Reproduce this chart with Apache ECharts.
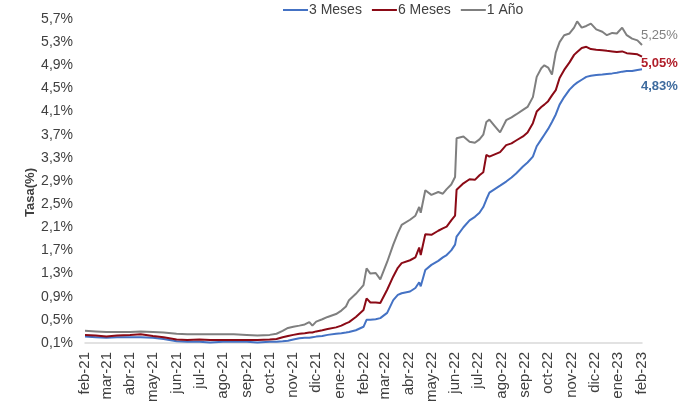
<!DOCTYPE html>
<html>
<head>
<meta charset="utf-8">
<script src="https://cdn.jsdelivr.net/npm/echarts@6/dist/echarts.min.js"></script>
<style>html,body{margin:0;padding:0;background:#fff}#c{width:691px;height:405px}</style>
</head>
<body>
<div id="c"></div>
<script>
const dates = [
 '2021-02-01','2021-02-15','2021-03-01','2021-03-15','2021-04-01','2021-04-15','2021-05-01','2021-05-15','2021-06-01','2021-06-15',
 '2021-07-01','2021-07-15','2021-08-01','2021-08-15','2021-09-01','2021-09-15','2021-10-01','2021-10-10','2021-10-18','2021-10-25',
 '2021-11-01','2021-11-09','2021-11-16','2021-11-22','2021-11-26','2021-12-01','2021-12-09','2021-12-16','2021-12-27',
 '2022-01-03','2022-01-09','2022-01-13','2022-01-22','2022-02-01','2022-02-05','2022-02-10','2022-02-17','2022-02-23','2022-03-04',
 '2022-03-12','2022-03-18','2022-03-23','2022-04-03','2022-04-10','2022-04-15','2022-04-17','2022-04-23','2022-05-01','2022-05-10',
 '2022-05-16','2022-05-21','2022-05-27','2022-06-01','2022-06-03','2022-06-12','2022-06-20','2022-06-27','2022-07-03','2022-07-08',
 '2022-07-12','2022-07-16','2022-07-23','2022-07-30','2022-08-07','2022-08-14','2022-08-20','2022-08-29','2022-09-04','2022-09-11',
 '2022-09-16','2022-09-22','2022-09-26','2022-10-01','2022-10-06','2022-10-11','2022-10-16','2022-10-22','2022-10-29','2022-11-04',
 '2022-11-08','2022-11-14','2022-11-20','2022-11-26','2022-12-03','2022-12-11','2022-12-17','2022-12-24','2022-12-30',
 '2023-01-06','2023-01-12','2023-01-19','2023-01-26','2023-02-01'
];
const anio1 = [
 0.31,0.30,0.29,0.29,0.29,0.30,0.29,0.28,0.26,0.25,
 0.25,0.25,0.25,0.25,0.24,0.23,0.24,0.26,0.31,0.36,
 0.38,0.40,0.42,0.46,0.40,0.47,0.51,0.55,0.60,
 0.66,0.73,0.84,0.95,1.10,1.39,1.30,1.31,1.20,1.50,
 1.80,2.00,2.14,2.23,2.30,2.45,2.35,2.74,2.66,2.71,
 2.68,2.76,2.84,2.97,3.64,3.67,3.58,3.56,3.62,3.70,
 3.92,3.96,3.85,3.74,3.95,4.00,4.05,4.13,4.18,4.35,
 4.70,4.85,4.90,4.86,4.74,5.12,5.30,5.42,5.45,5.55,
 5.66,5.55,5.58,5.62,5.52,5.48,5.42,5.46,5.45,
 5.55,5.42,5.36,5.33,5.25
];
const meses6 = [
 0.24,0.23,0.21,0.23,0.24,0.25,0.22,0.20,0.16,0.15,
 0.16,0.15,0.15,0.15,0.15,0.15,0.16,0.17,0.20,0.22,
 0.24,0.26,0.27,0.28,0.28,0.30,0.32,0.34,0.37,
 0.40,0.44,0.46,0.55,0.67,0.87,0.80,0.80,0.79,1.02,
 1.25,1.40,1.48,1.53,1.58,1.75,1.62,1.98,1.97,2.04,
 2.08,2.11,2.22,2.30,2.75,2.86,2.93,2.92,3.00,3.05,
 3.35,3.32,3.36,3.40,3.52,3.55,3.60,3.67,3.74,3.90,
 4.10,4.18,4.22,4.28,4.38,4.47,4.68,4.82,4.95,5.08,
 5.13,5.20,5.22,5.18,5.17,5.16,5.15,5.14,5.13,
 5.14,5.11,5.10,5.09,5.05
];
const meses3 = [
 0.21,0.20,0.19,0.20,0.20,0.20,0.19,0.17,0.13,0.12,
 0.12,0.11,0.12,0.12,0.12,0.11,0.12,0.12,0.13,0.14,
 0.16,0.18,0.19,0.19,0.20,0.21,0.22,0.24,0.26,
 0.27,0.28,0.29,0.32,0.38,0.50,0.50,0.51,0.53,0.62,
 0.84,0.93,0.96,0.99,1.05,1.15,1.08,1.36,1.45,1.52,
 1.58,1.62,1.70,1.80,1.94,2.10,2.22,2.28,2.35,2.45,
 2.58,2.70,2.76,2.82,2.89,2.96,3.03,3.15,3.22,3.32,
 3.50,3.62,3.70,3.80,3.92,4.05,4.22,4.35,4.48,4.56,
 4.60,4.65,4.70,4.72,4.73,4.74,4.75,4.76,4.77,
 4.79,4.80,4.80,4.82,4.83
];
const monthLabels = ['feb-21','mar-21','abr-21','may-21','jun-21','jul-21','ago-21','sep-21','oct-21','nov-21','dic-21','ene-22',
 'feb-22','mar-22','abr-22','may-22','jun-22','jul-22','ago-22','sep-22','oct-22','nov-22','dic-22','ene-23','feb-23'];
const yTicks = [0.1,0.5,0.9,1.3,1.7,2.1,2.5,2.9,3.3,3.7,4.1,4.5,4.9,5.3,5.7];

const monthValues = monthLabels.map((l, i) => Date.UTC(2021, 1 + i, 1));
const fmt = v => v.toFixed(2).replace('.', ',') + '%';
const pair = arr => dates.map((d, i) => [Date.parse(d + 'T00:00:00Z'), arr[i]]);
const FF = 'Liberation Sans, Arial, sans-serif';

const chart = echarts.init(document.getElementById('c'));
chart.setOption({
  animation: false,
  grid: {left: 85, right: 49, top: 19, bottom: 62},
  legend: {
    left: 283, top: 3, padding: 0, itemWidth: 25, itemHeight: 10, itemGap: 10,
    icon: 'path://M0,4 L25,4 L25,6 L0,6 Z',
    textStyle: {fontFamily: FF, fontSize: 14, color: '#404040', padding: [0, 0, 0, -4]},
    data: ['3 Meses', '6 Meses', '1 Año']
  },
  xAxis: {
    type: 'value',
    min: monthValues[0], max: monthValues[monthValues.length - 1],
    splitLine: {show: false},
    axisLine: {lineStyle: {color: '#d9d9d9', width: 1.5}},
    axisTick: {show: false},
    axisLabel: {
      customValues: monthValues,
      rotate: 90, margin: 9,
      fontFamily: FF, fontSize: 15, color: '#404040',
      formatter: v => { const i = monthValues.indexOf(v); return i >= 0 ? monthLabels[i] : ''; }
    }
  },
  yAxis: {
    type: 'value', min: 0.1, max: 5.7,
    splitLine: {show: false},
    axisLine: {show: false}, axisTick: {show: false},
    axisLabel: {
      customValues: yTicks, margin: 12,
      fontFamily: FF, fontSize: 14, color: '#404040',
      formatter: v => v.toFixed(1).replace('.', ',') + '%'
    }
  },
  graphic: [{
    type: 'text', left: 24, top: 168, rotation: Math.PI / 2,
    style: {text: 'Tasa(%)', font: 'bold 13px Liberation Sans, Arial, sans-serif', fill: '#404040'}
  }],
  series: [
    {name: '3 Meses', type: 'line', data: pair(meses3), symbol: 'none', lineStyle: {width: 2, color: '#4472C4'}, itemStyle: {color: '#4472C4'},
     endLabel: {show: true, formatter: p => fmt(p.value[1]), offset: [-9, 17], fontFamily: FF, fontSize: 13, fontWeight: 'bold', color: '#3E6B9E'}},
    {name: '6 Meses', type: 'line', data: pair(meses6), symbol: 'none', lineStyle: {width: 2, color: '#8B0A16'}, itemStyle: {color: '#8B0A16'},
     endLabel: {show: true, formatter: p => fmt(p.value[1]), offset: [-9, 7], fontFamily: FF, fontSize: 13, fontWeight: 'bold', color: '#B01E2A'}},
    {name: '1 Año', type: 'line', data: pair(anio1), symbol: 'none', lineStyle: {width: 2, color: '#7F7F7F'}, itemStyle: {color: '#7F7F7F'},
     endLabel: {show: true, formatter: p => fmt(p.value[1]), offset: [-9, -10], fontFamily: FF, fontSize: 13, color: '#808080'}}
  ]
});
</script>
</body>
</html>
